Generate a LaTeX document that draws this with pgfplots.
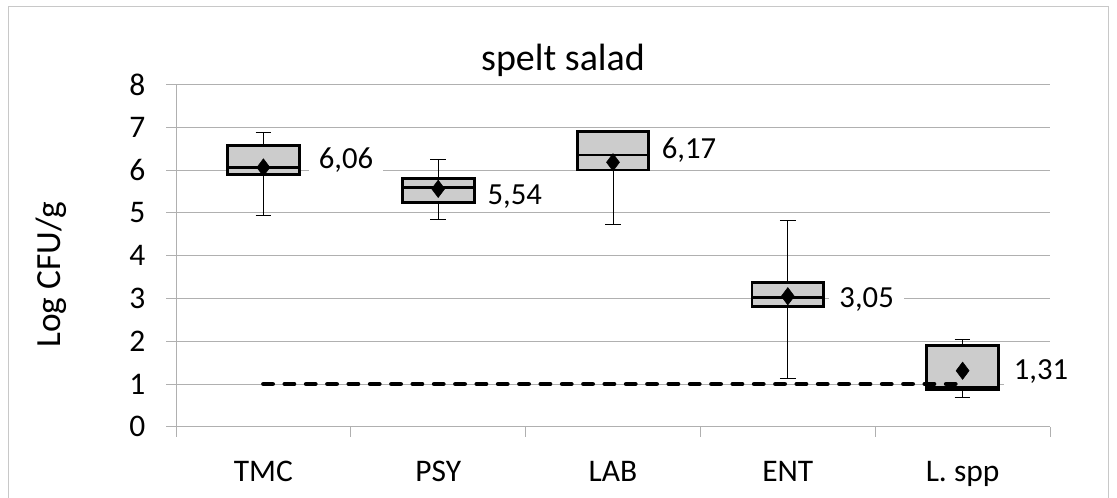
\documentclass[border=0pt]{standalone}
\usepackage{pgfplots}
\pgfplotsset{compat=1.18}
\usepgfplotslibrary{statistics}
\usepackage{fontspec}
\setmainfont{Carlito}
\definecolor{gridgray}{RGB}{176,176,176}
\definecolor{framegray}{RGB}{200,200,200}
\definecolor{boxgray}{RGB}{204,204,204}
\begin{document}
\begin{tikzpicture}[x=1pt,y=1pt]
\useasboundingbox (0,0) rectangle (837.75,372.75);
\draw[framegray, line width=0.75pt] (6,-5) rectangle (831,367.5);
\node[anchor=base, font=\fontsize{28.5}{34}\selectfont] at (422.25,319.7) {spelt salad};
\node[rotate=90, anchor=base, font=\fontsize{26.5}{32}\selectfont] at (45.75,166.5) {Log CFU/g};
\begin{axis}[
  at={(132pt,52.65pt)}, anchor=south west,
  scale only axis, width=655.5pt, height=256.8pt,
  xmin=0.5, xmax=5.5, ymin=0, ymax=8,
  axis x line=bottom, axis y line=left,
  axis line style={gridgray, line width=0.75pt, -},
  ytick={0,1,...,8},
  ymajorgrids, grid style={gridgray, line width=0.75pt},
  xtick={0.5,1.5,...,5.5}, xticklabels={},
  extra x ticks={1,2,3,4,5},
  extra x tick labels={TMC,PSY,LAB,ENT,L. spp},
  extra x tick style={major tick length=0pt, grid=none},
  tick align=outside, major tick length=7.5pt,
  tick style={gridgray, line width=0.75pt},
  ticklabel style={font=\fontsize{23.6}{28}\selectfont, text=black},
  /pgf/number format/assume math mode=true,
  yticklabel style={xshift=-12pt},
  xticklabel style={yshift=-22pt},
  clip=false,
  boxplot/draw direction=y,
  boxplot/every box/.style={draw=black, line width=2.2pt, fill=boxgray},
  boxplot/every median/.style={draw=black, line width=2.2pt},
  boxplot/every whisker/.style={draw=black, line width=0.75pt},
]
% whiskers and boxes
\addplot[black, boxplot prepared={draw position=1, lower whisker=4.94, lower quartile=5.89, median=6.05, upper quartile=6.57, upper whisker=6.88, box extend=0.41, whisker extend=0.09}] coordinates {};
\addplot[black, boxplot prepared={draw position=2, lower whisker=4.85, lower quartile=5.25, median=5.59, upper quartile=5.81, upper whisker=6.25, box extend=0.41, whisker extend=0.09}] coordinates {};
\addplot[black, boxplot prepared={draw position=3, lower whisker=4.73, lower quartile=6.00, median=6.35, upper quartile=6.90, upper whisker=6.90, box extend=0.41, whisker extend=0.09}] coordinates {};
\addplot[black, boxplot prepared={draw position=4, lower whisker=1.13, lower quartile=2.82, median=3.03, upper quartile=3.38, upper whisker=4.82, box extend=0.41, whisker extend=0.09}] coordinates {};
\addplot[black, boxplot prepared={draw position=5, lower whisker=0.68, lower quartile=0.86, median=0.92, upper quartile=1.91, upper whisker=2.03, box extend=0.41, whisker extend=0.09}] coordinates {};
% limit line
\addplot[black, line width=3.4pt, line cap=round, dash pattern=on 7pt off 9pt, mark=none] coordinates {(1,1) (2,1) (3,1) (4,1) (5,1)};
% means
\addplot[only marks, mark=diamond*, mark size=6.5pt, black] coordinates {(1,6.06) (2,5.56) (3,6.18) (4,3.05) (5,1.31)};
% value labels
\addplot[draw=none, mark=none, nodes near coords, point meta=explicit symbolic,
  nodes near coords style={anchor=base, fill=white, inner xsep=7.5pt, inner ysep=3pt, text=black, font=\fontsize{23}{28}\selectfont}]
  table[meta=lab] {
x y lab
1.473 6.04 6,06
2.438 5.20 5,54
3.435 6.27 6,17
4.451 2.78 3,05
5.449 1.11 1,31
};
\end{axis}
\end{tikzpicture}
\end{document}
